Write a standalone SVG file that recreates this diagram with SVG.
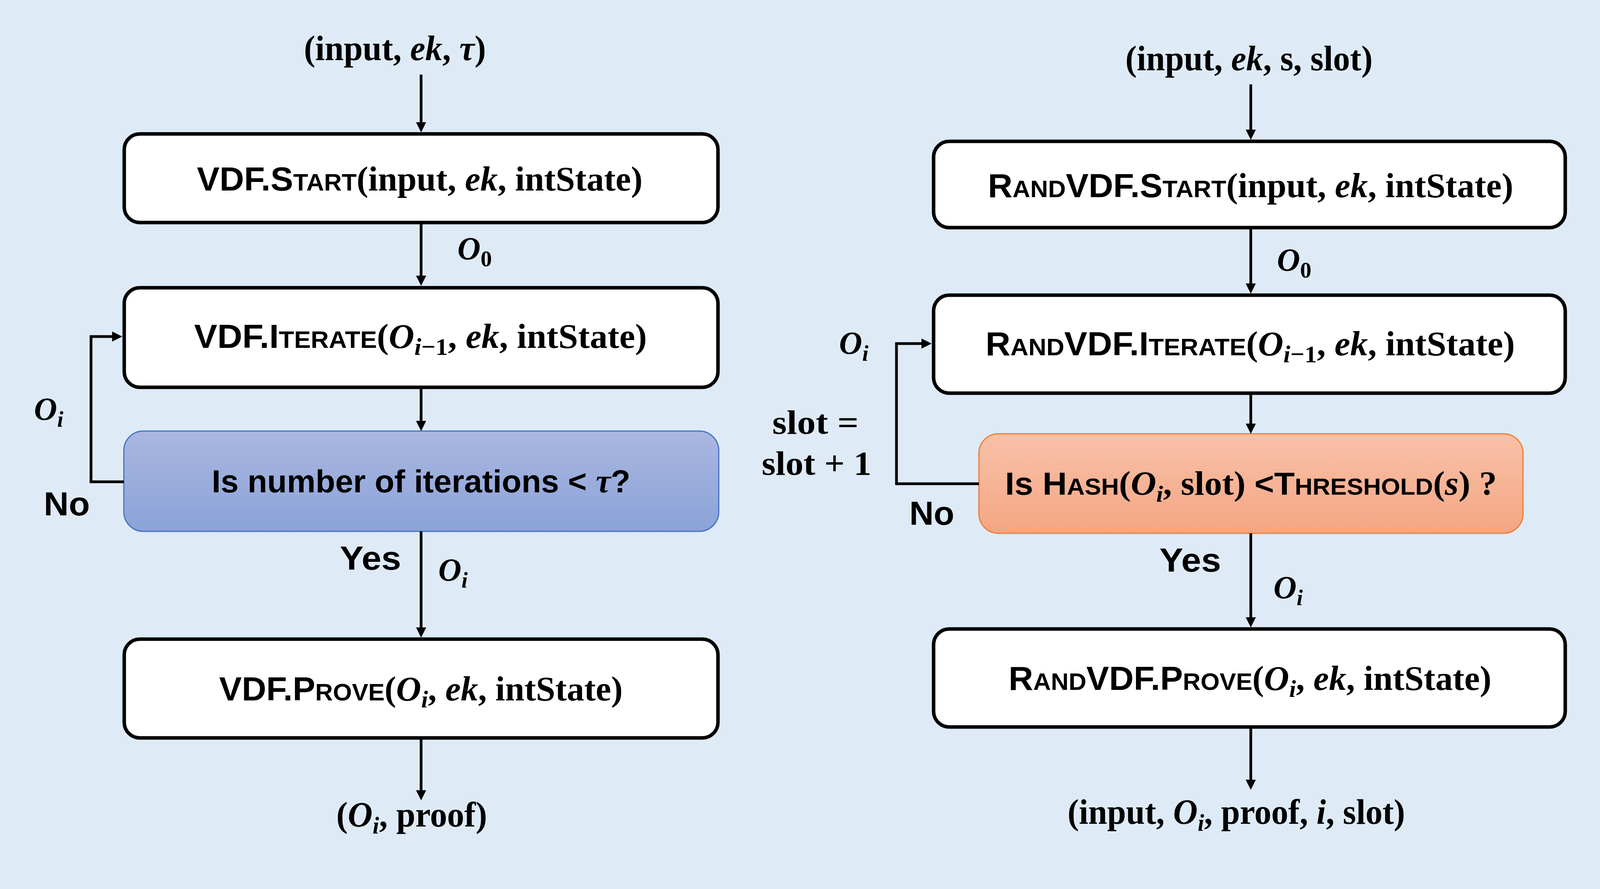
<svg xmlns="http://www.w3.org/2000/svg" width="7722" height="2277" viewBox="0 0 7722 2277">
<style>
.sans{font-family:"Liberation Sans",Arial,sans-serif;font-weight:bold}
.math{font-family:"Liberation Serif","DejaVu Serif",serif;font-weight:bold}
.pal{font-family:"Liberation Serif","DejaVu Serif",serif}
.box{fill:#fff;stroke:#000;stroke-width:9}
.conn{fill:none;stroke:#000;stroke-width:7}
.chain{fill:none;stroke:#000;stroke-width:12}
.it{font-style:italic}
.blk{fill:url(#gBlue)}
.lbl{font-family:"Liberation Serif","DejaVu Serif",serif;font-size:96px;fill:#fff}
.co{font-family:"Liberation Serif","DejaVu Serif",serif;font-size:114px}
.red{fill:#ff0000}
.gold{fill:#ffc000}
</style>
<defs>
<marker id="ah" markerUnits="userSpaceOnUse" viewBox="0 0 26 26" refX="0" refY="13" markerWidth="26" markerHeight="26" orient="auto"><path d="M0,0 L26,13 L0,26 z" fill="#000"/></marker>
<marker id="ah2" markerUnits="userSpaceOnUse" viewBox="0 0 42 42" refX="0" refY="21" markerWidth="42" markerHeight="42" orient="auto"><path d="M0,0 L42,21 L0,42 z" fill="#000"/></marker>
<linearGradient id="gBlue" x1="0" y1="0" x2="0" y2="1"><stop offset="0" stop-color="#5d84d0"/><stop offset="1" stop-color="#2e5fbd"/></linearGradient>
<linearGradient id="gGray" x1="0" y1="0" x2="0" y2="1"><stop offset="0" stop-color="#b2b2b2"/><stop offset="1" stop-color="#8e8e8e"/></linearGradient>
<linearGradient id="gDec1" x1="0" y1="0" x2="0" y2="1"><stop offset="0" stop-color="#aab7e0"/><stop offset="1" stop-color="#8ba3d9"/></linearGradient>
<linearGradient id="gDec2" x1="0" y1="0" x2="0" y2="1"><stop offset="0" stop-color="#f8c1a8"/><stop offset="1" stop-color="#f4a683"/></linearGradient>
<filter id="sh" x="-20%" y="-30%" width="140%" height="160%"><feDropShadow dx="0" dy="6" stdDeviation="13" flood-color="#6a5040" flood-opacity="0.4"/></filter>
<filter id="bsh" x="-30%" y="-20%" width="160%" height="140%"><feDropShadow dx="0" dy="5" stdDeviation="6" flood-color="#3a2a20" flood-opacity="0.45"/></filter>
</defs>

<rect x="0" y="0" width="4107" height="2277" fill="#deebf7"/>
<rect x="4107" y="0" width="3615" height="2277" fill="#fbe5d6"/>

<!-- LEFT FLOWCHART -->
<g id="vdf-input"><text class="math" font-size="90" x="778" y="154" textLength="466" lengthAdjust="spacingAndGlyphs">(input, <tspan class="it">ek</tspan>, <tspan class="it">τ</tspan>)</text></g>
<g id="vdf-start"><rect class="box" x="318" y="343" width="1520" height="227" rx="40"/>
<text x="504" y="488" textLength="1141" lengthAdjust="spacingAndGlyphs"><tspan class="sans" font-size="86">VDF.S<tspan font-size="62">TART</tspan></tspan><tspan class="math" font-size="88">(input, <tspan class="it">ek</tspan>, intState)</tspan></text></g>
<g id="vdf-iterate"><rect class="box" x="318" y="737" width="1520" height="255" rx="40"/>
<text x="497" y="891" textLength="1159" lengthAdjust="spacingAndGlyphs"><tspan class="sans" font-size="86">VDF.I<tspan font-size="62">TERATE</tspan></tspan><tspan class="math" font-size="88">(<tspan class="it">O</tspan><tspan class="it" font-size="62" dy="18">i</tspan><tspan font-size="62">−1</tspan><tspan dy="-18">, </tspan><tspan class="it">ek</tspan>, intState)</tspan></text></g>
<g id="vdf-decision"><rect x="317" y="1104" width="1523" height="257" rx="50" fill="url(#gDec1)" stroke="#4472c4" stroke-width="3"/>
<text x="542" y="1261" textLength="1072" lengthAdjust="spacingAndGlyphs"><tspan class="sans" font-size="82">Is number of iterations &lt; </tspan><tspan class="math it" font-size="86">τ</tspan><tspan class="sans" font-size="82">?</tspan></text></g>
<g id="vdf-prove"><rect class="box" x="318" y="1637" width="1520" height="253" rx="40"/>
<text x="561" y="1794" textLength="1033" lengthAdjust="spacingAndGlyphs"><tspan class="sans" font-size="86">VDF.P<tspan font-size="62">ROVE</tspan></tspan><tspan class="math" font-size="88">(<tspan class="it">O</tspan><tspan class="it" font-size="62" dy="18">i</tspan><tspan dy="-18">, </tspan><tspan class="it">ek</tspan>, intState)</tspan></text></g>
<g id="vdf-output"><text class="math" font-size="90" x="861" y="2117" textLength="386" lengthAdjust="spacingAndGlyphs">(<tspan class="it">O</tspan><tspan class="it" font-size="62" dy="18">i</tspan><tspan dy="-18">, proof)</tspan></text></g>

<!-- MIDDLE FLOWCHART -->
<g id="rvdf-input"><text class="math" font-size="90" x="2881" y="180" textLength="633" lengthAdjust="spacingAndGlyphs">(input, <tspan class="it">ek</tspan>, s, slot)</text></g>
<g id="rvdf-start"><rect class="box" x="2390" y="362" width="1617" height="221" rx="40"/>
<text x="2529" y="505" textLength="1345" lengthAdjust="spacingAndGlyphs"><tspan class="sans" font-size="86">R<tspan font-size="62">AND</tspan>VDF.S<tspan font-size="62">TART</tspan></tspan><tspan class="math" font-size="88">(input, <tspan class="it">ek</tspan>, intState)</tspan></text></g>
<g id="rvdf-iterate"><rect class="box" x="2390" y="756" width="1617" height="251" rx="40"/>
<text x="2523" y="910" textLength="1355" lengthAdjust="spacingAndGlyphs"><tspan class="sans" font-size="86">R<tspan font-size="62">AND</tspan>VDF.I<tspan font-size="62">TERATE</tspan></tspan><tspan class="math" font-size="88">(<tspan class="it">O</tspan><tspan class="it" font-size="62" dy="18">i</tspan><tspan font-size="62">−1</tspan><tspan dy="-18">, </tspan><tspan class="it">ek</tspan>, intState)</tspan></text></g>
<g id="rvdf-decision"><rect x="2506" y="1111" width="1393" height="255" rx="50" fill="url(#gDec2)" stroke="#ed7d31" stroke-width="3"/>
<text x="2573" y="1267" textLength="1259" lengthAdjust="spacingAndGlyphs"><tspan class="sans" font-size="82">Is H<tspan font-size="60">ASH</tspan></tspan><tspan class="math" font-size="86">(<tspan class="it">O</tspan><tspan class="it" font-size="60" dy="18">i</tspan><tspan dy="-18">, slot) </tspan></tspan><tspan class="sans" font-size="82">&lt;T<tspan font-size="60">HRESHOLD</tspan></tspan><tspan class="math" font-size="86">(<tspan class="it">s</tspan>) ?</tspan></text></g>
<g id="rvdf-prove"><rect class="box" x="2390" y="1611" width="1617" height="251" rx="40"/>
<text x="2582" y="1767" textLength="1236" lengthAdjust="spacingAndGlyphs"><tspan class="sans" font-size="86">R<tspan font-size="62">AND</tspan>VDF.P<tspan font-size="62">ROVE</tspan></tspan><tspan class="math" font-size="88">(<tspan class="it">O</tspan><tspan class="it" font-size="62" dy="18">i</tspan><tspan dy="-18">, </tspan><tspan class="it">ek</tspan>, intState)</tspan></text></g>
<g id="rvdf-output"><text class="math" font-size="90" x="2733" y="2110" textLength="864" lengthAdjust="spacingAndGlyphs">(input, <tspan class="it">O</tspan><tspan class="it" font-size="62" dy="18">i</tspan><tspan dy="-18">, proof, </tspan><tspan class="it">i</tspan>, slot)</text></g>

<!-- CONNECTORS -->
<g id="connectors">
<path class="conn" d="M1078,191 V313" marker-end="url(#ah)"/>
<path class="conn" d="M1078,574 V706" marker-end="url(#ah)"/>
<path class="conn" d="M1078,996 V1078" marker-end="url(#ah)"/>
<path class="conn" d="M1078,1361 V1607" marker-end="url(#ah)"/>
<path class="conn" d="M1078,1894 V2024" marker-end="url(#ah)"/>
<path class="conn" d="M317,1234 H233 V862 H287" marker-end="url(#ah)"/>
<path class="conn" d="M3202,216 V332" marker-end="url(#ah)"/>
<path class="conn" d="M3202,587 V726" marker-end="url(#ah)"/>
<path class="conn" d="M3202,1011 V1085" marker-end="url(#ah)"/>
<path class="conn" d="M3202,1366 V1581" marker-end="url(#ah)"/>
<path class="conn" d="M3202,1866 V1997" marker-end="url(#ah)"/>
<path class="conn" d="M2506,1239 H2295 V880 H2359" marker-end="url(#ah)"/>
</g>

<!-- connector labels -->
<g id="labels" class="math">
<text x="1171" y="664" font-size="82"><tspan class="it">O</tspan><tspan font-size="58" dy="18">0</tspan></text>
<text x="87" y="1075" font-size="82"><tspan class="it">O</tspan><tspan class="it" font-size="58" dy="18">i</tspan></text>
<text x="1122" y="1487" font-size="82"><tspan class="it">O</tspan><tspan class="it" font-size="58" dy="18">i</tspan></text>
<text class="sans" x="112" y="1320" font-size="86" textLength="118" lengthAdjust="spacingAndGlyphs">No</text>
<text class="sans" x="870" y="1459" font-size="86" textLength="157" lengthAdjust="spacingAndGlyphs">Yes</text>
<text x="3269" y="693" font-size="82"><tspan class="it">O</tspan><tspan font-size="58" dy="18">0</tspan></text>
<text x="2148" y="906" font-size="82"><tspan class="it">O</tspan><tspan class="it" font-size="58" dy="18">i</tspan></text>
<text x="3260" y="1532" font-size="82"><tspan class="it">O</tspan><tspan class="it" font-size="58" dy="18">i</tspan></text>
<text x="1977" y="1111" font-size="86" textLength="221" lengthAdjust="spacingAndGlyphs">slot =</text>
<text x="1950" y="1216" font-size="86" textLength="281" lengthAdjust="spacingAndGlyphs">slot + 1</text>
<text class="sans" x="2328" y="1344" font-size="86" textLength="115" lengthAdjust="spacingAndGlyphs">No</text>
<text class="sans" x="2968" y="1464" font-size="86" textLength="158" lengthAdjust="spacingAndGlyphs">Yes</text>
</g>

<!-- RIGHT PANEL -->
<g id="epoch1-bg"><rect x="4693" y="851" width="1244" height="343" rx="58" fill="#dae3f3"/></g>
<g id="epoch2-bg"><rect x="6005" y="850" width="1202" height="343" rx="58" fill="#dae3f3"/></g>

<g id="epoch-braces" fill="none" stroke="#000" stroke-width="10" stroke-linejoin="round">
<path d="M4676,505 Q4676,477 4700,477 H5281 Q5305,477 5305,446 Q5305,477 5329,477 H5911 Q5935,477 5935,505"/>
<path d="M5984,525 Q5984,479 6010,479 H6565 Q6591,479 6591,435 Q6591,479 6617,479 H7181 Q7207,479 7207,525"/>
</g>
<g id="epoch1-label"><text class="pal" font-size="100" x="4945" y="394" textLength="770" lengthAdjust="spacingAndGlyphs">Epoch 1 of c blocks</text></g>
<g id="epoch2-label"><text class="pal" font-size="100" x="6256" y="388" textLength="767" lengthAdjust="spacingAndGlyphs">Epoch 2 of c blocks</text></g>

<g id="chain-connectors">
<path class="chain" d="M4763,1031 H4609" marker-end="url(#ah2)"/>
<path class="chain" d="M5087,1031 H4957" marker-end="url(#ah2)"/>
<path class="chain" d="M5410,1031 H5281" marker-end="url(#ah2)"/>
<path class="chain" d="M5734,1031 H5604" marker-end="url(#ah2)"/>
<path class="chain" d="M6050,1031 H5928" marker-end="url(#ah2)"/>
<path class="chain" d="M6368,1031 H6244" marker-end="url(#ah2)"/>
<path class="chain" d="M6678,1031 H6562" marker-end="url(#ah2)"/>
<path class="chain" d="M6997,1031 H6871" marker-end="url(#ah2)"/>
<path class="chain" d="M7197,1031 H7191" marker-end="url(#ah2)"/>
<path class="chain" d="M7200,1031 H7322" stroke-dasharray="14 11"/>
</g>

<g id="block-G"><rect x="4440" y="925" width="127" height="213" rx="24" fill="url(#gGray)" filter="url(#bsh)"/>
<text x="4503" y="1075" font-family="'Open Sans','Liberation Sans',sans-serif" font-weight="bold" font-size="114" fill="#fff" text-anchor="middle">G</text></g>
<g id="block-rs1"><rect class="blk" x="4763" y="925" width="152" height="213" rx="24" filter="url(#bsh)"/>
<text class="lbl" x="4773" y="1060" textLength="108" lengthAdjust="spacingAndGlyphs"><tspan font-weight="bold">rs</tspan><tspan font-size="66" dy="14">1</tspan></text></g>
<g id="block-rs2"><rect class="blk" x="5087" y="925" width="152" height="213" rx="24" filter="url(#bsh)"/>
<text class="lbl" x="5094" y="1060" textLength="112" lengthAdjust="spacingAndGlyphs"><tspan font-weight="bold">rs</tspan><tspan font-size="66" dy="14">2</tspan></text></g>
<g id="block-rs3"><rect class="blk" x="5410" y="925" width="152" height="213" rx="24" filter="url(#bsh)"/>
<text class="lbl" x="5420" y="1060" textLength="110" lengthAdjust="spacingAndGlyphs"><tspan font-weight="bold">rs</tspan><tspan font-size="66" dy="14">3</tspan></text></g>
<g id="block-rs4"><rect class="blk" x="5734" y="925" width="152" height="213" rx="24" filter="url(#bsh)"/>
<text class="lbl gold" x="5742" y="1060" textLength="112" lengthAdjust="spacingAndGlyphs" style="fill:#ffc000"><tspan font-weight="bold">rs</tspan><tspan font-size="66" font-weight="bold" dy="14">4</tspan></text></g>
<g id="block-rs5"><rect class="blk" x="6050" y="925" width="152" height="213" rx="24" filter="url(#bsh)"/>
<text class="lbl" x="6060" y="1062" textLength="108" lengthAdjust="spacingAndGlyphs"><tspan font-weight="bold">rs</tspan><tspan font-size="66" dy="14">5</tspan></text></g>
<g id="block-rs6"><rect class="blk" x="6368" y="925" width="152" height="213" rx="24" filter="url(#bsh)"/>
<text class="lbl" x="6377" y="1062" textLength="112" lengthAdjust="spacingAndGlyphs"><tspan font-weight="bold">rs</tspan><tspan font-size="66" dy="14">6</tspan></text></g>
<g id="block-rs7"><rect class="blk" x="6678" y="925" width="152" height="213" rx="24" filter="url(#bsh)"/>
<text class="lbl" x="6686" y="1062" textLength="113" lengthAdjust="spacingAndGlyphs"><tspan font-weight="bold">rs</tspan><tspan font-size="66" dy="14">7</tspan></text></g>
<g id="block-rs8"><rect class="blk" x="6997" y="925" width="152" height="213" rx="24" filter="url(#bsh)"/>
<text class="lbl" x="7007" y="1062" textLength="111" lengthAdjust="spacingAndGlyphs"><tspan font-weight="bold">rs</tspan><tspan font-size="66" dy="14">8</tspan></text></g>

<!-- callouts -->
<g id="callout-rs2"><g filter="url(#sh)" fill="#fff"><rect x="4542" y="650" width="595" height="158" rx="27"/><polygon points="4891,800 5040,800 5130,957"/></g>
<text class="co" x="4576" y="765" textLength="502" lengthAdjust="spacingAndGlyphs"><tspan font-weight="bold">rs</tspan><tspan font-size="76" dy="16">2</tspan><tspan dy="-16"> = </tspan><tspan font-weight="bold" font-style="italic">f</tspan>(<tspan class="red" font-weight="bold">rs</tspan><tspan class="red" font-weight="bold" font-size="76" dy="16">G</tspan><tspan dy="-16">)</tspan></text></g>
<g id="callout-rs4"><g filter="url(#sh)" fill="#fff"><rect x="5287" y="658" width="597" height="160" rx="27"/><polygon points="5636,810 5785,810 5781,966"/></g>
<text class="co" x="5323" y="771" textLength="501" lengthAdjust="spacingAndGlyphs"><tspan font-weight="bold">rs</tspan><tspan font-size="76" dy="16">4</tspan><tspan dy="-16"> = </tspan><tspan font-weight="bold" font-style="italic">f</tspan>(<tspan class="red" font-weight="bold">rs</tspan><tspan class="red" font-weight="bold" font-size="76" dy="16">G</tspan><tspan dy="-16">)</tspan></text></g>
<g id="callout-rs6"><g filter="url(#sh)" fill="#fff"><rect x="5950" y="655" width="620" height="160" rx="27"/><polygon points="6312,807 6467,807 6457,956"/></g>
<text class="co" x="5999" y="770" textLength="500" lengthAdjust="spacingAndGlyphs"><tspan font-weight="bold">rs</tspan><tspan font-size="76" dy="16">6</tspan><tspan dy="-16"> = </tspan><tspan font-weight="bold" font-style="italic">f</tspan>(<tspan class="gold" font-weight="bold">rs</tspan><tspan class="gold" font-weight="bold" font-size="76" dy="16">4</tspan><tspan dy="-16">)</tspan></text></g>
<g id="callout-rs8"><g filter="url(#sh)" fill="#fff"><rect x="6616" y="655" width="621" height="160" rx="27"/><polygon points="6979,807 7130,807 7090,966"/></g>
<text class="co" x="6664" y="770" textLength="499" lengthAdjust="spacingAndGlyphs"><tspan font-weight="bold">rs</tspan><tspan font-size="76" dy="16">8</tspan><tspan dy="-16"> = </tspan><tspan font-weight="bold" font-style="italic">f</tspan>(<tspan class="gold" font-weight="bold">rs</tspan><tspan class="gold" font-weight="bold" font-size="76" dy="16">4</tspan><tspan dy="-16">)</tspan></text></g>

<g id="callout-rsG"><g filter="url(#sh)" fill="#fff"><rect x="4300" y="1271" width="286" height="160" rx="27"/><polygon points="4469,1279 4537,1279 4485,1103"/></g>
<text class="co red" x="4370" y="1381" textLength="127" lengthAdjust="spacingAndGlyphs" font-weight="bold">rs<tspan font-size="76" dy="16">G</tspan></text></g>
<g id="callout-rs1"><g filter="url(#sh)" fill="#fff"><rect x="4665" y="1271" width="619" height="160" rx="27"/><polygon points="4769,1279 4923,1279 4830,1106"/></g>
<text class="co" x="4712" y="1381" textLength="500" lengthAdjust="spacingAndGlyphs"><tspan font-weight="bold">rs</tspan><tspan font-size="76" dy="16">1</tspan><tspan dy="-16"> = </tspan><tspan font-weight="bold" font-style="italic">f</tspan>(<tspan class="red" font-weight="bold">rs</tspan><tspan class="red" font-weight="bold" font-size="76" dy="16">G</tspan><tspan dy="-16">)</tspan></text></g>
<g id="callout-rs3"><g filter="url(#sh)" fill="#fff"><rect x="5336" y="1271" width="621" height="160" rx="27"/><polygon points="5439,1279 5593,1279 5472,1097"/></g>
<text class="co" x="5385" y="1381" textLength="499" lengthAdjust="spacingAndGlyphs"><tspan font-weight="bold">rs</tspan><tspan font-size="76" dy="16">3</tspan><tspan dy="-16"> = </tspan><tspan font-weight="bold" font-style="italic">f</tspan>(<tspan class="red" font-weight="bold">rs</tspan><tspan class="red" font-weight="bold" font-size="76" dy="16">G</tspan><tspan dy="-16">)</tspan></text></g>
<g id="callout-rs5"><g filter="url(#sh)" fill="#fff"><rect x="6028" y="1273" width="620" height="159" rx="27"/><polygon points="6133,1281 6287,1281 6137,1107"/></g>
<text class="co" x="6077" y="1389" textLength="499" lengthAdjust="spacingAndGlyphs"><tspan font-weight="bold">rs</tspan><tspan font-size="76" dy="16">5</tspan><tspan dy="-16"> = </tspan><tspan font-weight="bold" font-style="italic">f</tspan>(<tspan class="gold" font-weight="bold">rs</tspan><tspan class="gold" font-weight="bold" font-size="76" dy="16">4</tspan><tspan dy="-16">)</tspan></text></g>
<g id="callout-rs7"><g filter="url(#sh)" fill="#fff"><rect x="6743" y="1266" width="621" height="157" rx="27"/><polygon points="6844,1274 6999,1274 6768,1113"/></g>
<text class="co" x="6790" y="1379" textLength="502" lengthAdjust="spacingAndGlyphs"><tspan font-weight="bold">rs</tspan><tspan font-size="76" dy="16">7</tspan><tspan dy="-16"> = </tspan><tspan font-weight="bold" font-style="italic">f</tspan>(<tspan class="gold" font-weight="bold">rs</tspan><tspan class="gold" font-weight="bold" font-size="76" dy="16">4</tspan><tspan dy="-16">)</tspan></text></g>

<g id="formula"><text class="pal" font-size="100" x="4260" y="1636" textLength="1430" lengthAdjust="spacingAndGlyphs">f(rs) = VDF.Eval (ek, stake, slot, rs)</text></g>

<g id="update-note"><rect x="6743" y="1532" width="804" height="367" fill="#fff" filter="url(#sh)"/>
<text class="pal" font-size="100" x="6797" y="1632" textLength="660" lengthAdjust="spacingAndGlyphs">Update source of</text>
<text class="pal" font-size="100" x="6781" y="1741" textLength="684" lengthAdjust="spacingAndGlyphs">randomness once</text>
<text class="pal" font-size="100" x="6862" y="1849" textLength="541" lengthAdjust="spacingAndGlyphs">every c blocks</text></g>
</svg>
